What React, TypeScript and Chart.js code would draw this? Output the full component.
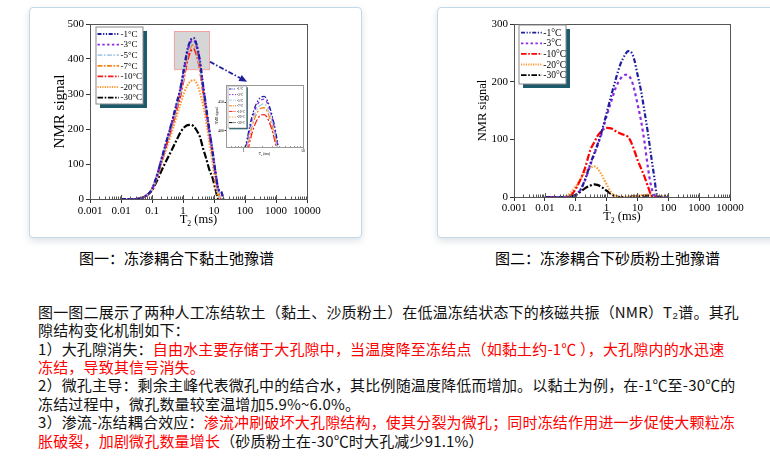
import React, { useEffect, useRef } from 'react';
import { Chart, registerables } from 'chart.js';
Chart.register(...registerables);

// ---------------- data ----------------
const xTickValues = [0.001, 0.01, 0.1, 1, 10, 100, 1000, 10000];
const clayYTicks = [0, 100, 200, 300, 400, 500];
const siltYTicks = [0, 100, 200, 300];
const insetXTicks = [1, 10];
const insetYTicks = [400, 450];

const clayLabels = ['-1°C', '-3°C', '-5°C', '-7°C', '-10°C', '-20°C', '-30°C'];
const clayT2 = [0.01, 0.03, 0.05, 0.07, 0.1, 0.15, 0.2, 0.3, 0.45, 0.65, 0.85, 1.1, 1.4, 1.8, 2.2, 2.8, 3.5, 4.5, 5.5, 7, 9, 11, 14, 17, 20];
const clayM1 = [0, 0, 4, 12, 28, 72, 112, 168, 224, 280, 322, 378, 428, 455, 460, 438, 395, 321, 267, 200, 136, 80, 28, 22, 0];
const clayM3 = [0, 0, 4, 12, 28, 72, 112, 167, 222, 277, 319, 374, 423, 450, 455, 434, 391, 318, 264, 198, 135, 79, 26, 20, 0];
const clayM5 = [0, 0, 4, 12, 28, 71, 110, 164, 218, 272, 313, 368, 416, 442, 447, 426, 384, 312, 260, 195, 132, 78, 15, 0, 0];
const clayM7 = [0, 0, 4, 12, 27, 70, 108, 162, 215, 268, 308, 362, 410, 436, 440, 419, 378, 307, 256, 192, 130, 76, 15, 0, 0];
const clayM10 = [0, 0, 4, 12, 27, 69, 106, 158, 210, 262, 300, 352, 398, 424, 428, 410, 372, 304, 254, 190, 130, 76, 16, 0, 0];
const clayM20 = [0, 0, 4, 12, 27, 65, 100, 148, 195, 242, 275, 305, 325, 337, 340, 330, 305, 265, 226, 165, 105, 45, 5, 0, 0];
const clayM30 = [0, 0, 4, 11, 25, 55, 80, 112, 143, 172, 192, 205, 211, 212, 208, 195, 178, 143, 118, 85, 60, 30, 0, 0, 0];
const claySeries = [clayM1, clayM3, clayM5, clayM7, clayM10, clayM20, clayM30];

const siltLabels = ['-1°C', '-3°C', '-10°C', '-20°C', '-30°C'];
const siltT2 = [0.01, 0.03, 0.05, 0.07, 0.1, 0.15, 0.2, 0.3, 0.4, 0.5, 0.7, 1, 1.4, 2, 2.8, 4, 5, 6.5, 8, 10, 13, 17, 22, 28, 35, 42, 50, 70, 100];
const siltM1 = [0, 0, 0, 0, 3, 15, 30, 58, 76, 90, 114, 145, 175, 205, 230, 247, 253, 250, 237, 213, 185, 148, 110, 70, 35, 5, 0, 0, 0];
const siltM3 = [0, 0, 0, 0, 3, 14, 29, 56, 74, 88, 111, 140, 165, 190, 205, 212, 211, 202, 185, 162, 133, 95, 50, 18, 3, 0, 0, 0, 0];
const siltM10 = [0, 0, 0, 3, 14, 33, 50, 82, 95, 105, 115, 120, 119, 114, 110, 107, 104, 93, 80, 65, 50, 35, 18, 3, 0, 0, 0, 0, 0];
const siltM20 = [0, 0, 2, 8, 18, 33, 43, 51, 53, 50, 38, 22, 8, 1, 0, 0, 0, 0, 1, 2, 3, 3.5, 4, 3.5, 3, 2.5, 2, 1, 0];
const siltM30 = [0, 0, 0, 1, 4, 10, 15, 20, 22, 21, 17, 11, 5, 1, 0, 0, 0, 0.5, 1, 1.5, 2, 2.5, 2.5, 2, 1.5, 1, 0.5, 0, 0];
const siltSeries = [siltM1, siltM3, siltM10, siltM20, siltM30];

// zoom box & arrow annotations (data units of the clay chart)
const zoomBoxT2 = [0.51, 6.9];
const zoomBoxSignal = [371, 480];
const arrowFrom = [7.4, 392];
const arrowTo = [117, 335];

// ---------------- styles ----------------
const SERIF = '"Liberation Serif", "Times New Roman", serif';
const NAVY = '#1f1f9e';
const clayStyles = [
  { color: NAVY, dash: [5, 2, 1.5, 2, 1.5, 2] },
  { color: '#8a2be2', dash: [3, 3] },
  { color: '#a9cbe9', dash: [6, 2, 2, 2] },
  { color: '#ff7f0e', dash: [6, 2, 2, 2] },
  { color: '#f51c1c', dash: [7, 2, 2, 2] },
  { color: '#ff9933', dash: [1.5, 1.5] },
  { color: '#000000', dash: [7, 2, 2, 2] },
];
const siltStyles = [clayStyles[0], clayStyles[1], { color: '#ff0000', dash: [7, 2, 2, 2] }, clayStyles[5], clayStyles[6]];

function makeDatasets(xs: number[], series: number[][], labels: string[], styles: any[], width: number) {
  return series.map((s, i) => ({
    label: labels[i],
    data: xs.map((t, j) => ({ x: t, y: s[j] })),
    borderColor: styles[i].color,
    borderDash: styles[i].dash,
    borderWidth: width,
    pointRadius: 0,
    fill: false,
    cubicInterpolationMode: 'monotone',
  }));
}

function decor(o: any) {
  return {
    id: 'decor',
    beforeDatasetsDraw(chart: any) {
      const { ctx, chartArea: a } = chart;
      ctx.save();
      if (o.plotBg) {
        ctx.fillStyle = o.plotBg;
        ctx.fillRect(a.left, a.top, a.right - a.left, a.bottom - a.top);
      }
      if (o.zoomBox) {
        const xs = chart.scales.x, ys = chart.scales.y;
        const x0 = xs.getPixelForValue(zoomBoxT2[0]), x1 = xs.getPixelForValue(zoomBoxT2[1]);
        const y0 = ys.getPixelForValue(zoomBoxSignal[1]), y1 = ys.getPixelForValue(zoomBoxSignal[0]);
        ctx.fillStyle = '#d6d6d6';
        ctx.fillRect(x0, y0, x1 - x0, y1 - y0);
        ctx.strokeStyle = '#f2a3a3';
        ctx.lineWidth = 1;
        ctx.strokeRect(x0 + 0.5, y0 + 0.5, x1 - x0, y1 - y0);
      }
      ctx.restore();
    },
    afterDraw(chart: any) {
      const { ctx, chartArea: a } = chart;
      const xs = chart.scales.x;
      ctx.save();
      // frame
      ctx.strokeStyle = o.frameColor || '#444';
      ctx.lineWidth = 1;
      ctx.setLineDash([]);
      ctx.strokeRect(Math.round(a.left) + 0.5, Math.round(a.top) + 0.5, Math.round(a.right - a.left), Math.round(a.bottom - a.top));
      // minor + inner major ticks on x axis
      ctx.beginPath();
      const lo = Math.round(Math.log10(xs.min)), hi = Math.round(Math.log10(xs.max));
      for (let n = lo - 1; n <= hi; n++) {
        for (let k = 1; k <= 9; k++) {
          const v = k * Math.pow(10, n);
          if (v < xs.min * 0.999 || v > xs.max * 1.001) continue;
          const px = Math.round(xs.getPixelForValue(v)) + 0.5;
          const len = k === 1 ? o.majorIn : o.minorIn;
          ctx.moveTo(px, a.bottom);
          ctx.lineTo(px, a.bottom - len);
        }
      }
      ctx.stroke();
      // titles
      ctx.fillStyle = '#000';
      ctx.font = `${o.yTitleSize}px ${SERIF}`;
      ctx.textAlign = 'center';
      ctx.textBaseline = 'middle';
      ctx.save();
      ctx.translate(o.yTitleX, (a.top + a.bottom) / 2);
      ctx.rotate(-Math.PI / 2);
      ctx.fillText('NMR signal', 0, 0);
      ctx.restore();
      {
        const fs = o.xTitleSize;
        ctx.textAlign = 'left';
        ctx.font = `${fs}px ${SERIF}`;
        const wT = ctx.measureText('T').width;
        const wR = ctx.measureText(' (ms)').width;
        ctx.font = `${fs * 0.62}px ${SERIF}`;
        const wS = ctx.measureText('2').width;
        const cx = (a.left + a.right) / 2;
        let x = cx - (wT + wS + wR) / 2;
        const y = o.xTitleY;
        ctx.font = `${fs}px ${SERIF}`;
        ctx.fillText('T', x, y);
        x += wT;
        ctx.font = `${fs * 0.62}px ${SERIF}`;
        ctx.fillText('2', x, y + fs * 0.3);
        x += wS;
        ctx.font = `${fs}px ${SERIF}`;
        ctx.fillText(' (ms)', x, y);
      }
      // legend
      if (o.legend) {
        const L = o.legend;
        ctx.fillStyle = '#1d5a6b';
        ctx.fillRect(L.x + L.sh, L.y + L.sh, L.w, L.h);
        ctx.fillStyle = '#fff';
        ctx.fillRect(L.x, L.y, L.w, L.h);
        ctx.strokeStyle = '#8a8a8a';
        ctx.lineWidth = L.bw;
        ctx.strokeRect(L.x, L.y, L.w, L.h);
        ctx.font = `${L.font}px ${SERIF}`;
        ctx.textAlign = 'left';
        ctx.textBaseline = 'middle';
        L.labels.forEach((lab: string, i: number) => {
          const yy = L.row0 + i * L.step;
          ctx.strokeStyle = L.styles[i].color;
          ctx.lineWidth = L.lw;
          ctx.setLineDash(L.styles[i].dash.map((d: number) => d * L.dashScale));
          ctx.beginPath();
          ctx.moveTo(L.lx0, yy);
          ctx.lineTo(L.lx1, yy);
          ctx.stroke();
          ctx.setLineDash([]);
          ctx.fillStyle = '#000';
          ctx.fillText(lab, L.tx, yy + 0.5);
        });
      }
      // arrow
      if (o.arrow) {
        const ys = chart.scales.y;
        const x1 = xs.getPixelForValue(arrowFrom[0]), y1 = ys.getPixelForValue(arrowFrom[1]);
        const x2 = xs.getPixelForValue(arrowTo[0]), y2 = ys.getPixelForValue(arrowTo[1]);
        const ang = Math.atan2(y2 - y1, x2 - x1);
        const HL = 8, HW = 3.5;
        const c = Math.cos(ang), s = Math.sin(ang);
        ctx.strokeStyle = NAVY;
        ctx.fillStyle = NAVY;
        ctx.lineWidth = 1.8;
        ctx.setLineDash([5, 2, 1.5, 2]);
        ctx.beginPath();
        ctx.moveTo(x1, y1);
        ctx.lineTo(x2 - HL * c, y2 - HL * s);
        ctx.stroke();
        ctx.setLineDash([]);
        ctx.beginPath();
        ctx.moveTo(x2, y2);
        ctx.lineTo(x2 - HL * c + HW * s, y2 - HL * s - HW * c);
        ctx.lineTo(x2 - HL * c - HW * s, y2 - HL * s + HW * c);
        ctx.closePath();
        ctx.fill();
      }
      ctx.restore();
    },
  };
}

function logX(min: number, max: number, ticks: number[], h: number, fs: number, tl: number, pad: number) {
  return {
    type: 'logarithmic',
    min,
    max,
    afterBuildTicks: (s: any) => { s.ticks = ticks.map((v) => ({ value: v })); },
    afterFit: (s: any) => { s.height = h; },
    ticks: { autoSkip: false, maxRotation: 0, color: '#000', padding: pad, font: { family: SERIF, size: fs }, callback: (v: any) => String(v) },
    grid: { drawOnChartArea: false, tickLength: tl, color: '#333', lineWidth: 1 },
    border: { color: '#333', width: 1 },
  };
}
function linY(min: number, max: number, ticks: number[], w: number, fs: number, tl: number, pad: number) {
  return {
    type: 'linear',
    min,
    max,
    afterBuildTicks: (s: any) => { s.ticks = ticks.map((v) => ({ value: v })); },
    afterFit: (s: any) => { s.width = w; },
    ticks: { color: '#000', padding: pad, font: { family: SERIF, size: fs } },
    grid: { drawOnChartArea: false, tickLength: tl, color: '#333', lineWidth: 1 },
    border: { color: '#333', width: 1 },
  };
}

function buildClay() {
  return {
    type: 'line',
    data: { datasets: makeDatasets(clayT2, claySeries, clayLabels, clayStyles, 2.2) },
    options: {
      responsive: false, animation: false, devicePixelRatio: 1,
      layout: { padding: { left: 0, top: 16, right: 53, bottom: 0 } },
      plugins: { legend: { display: false }, tooltip: { enabled: false } },
      scales: {
        x: logX(0.001, 10000, xTickValues, 37, 11, 4, 2),
        y: linY(0, 500, clayYTicks, 60, 11, 4, 2),
      },
    },
    plugins: [decor({
      frameColor: '#555', majorIn: 4, minorIn: 2.5, yTitleSize: 15, yTitleX: 30, xTitleSize: 12.5, xTitleY: 212,
      zoomBox: true, arrow: true,
      legend: { x: 66, y: 19, w: 47, h: 77, sh: 4, bw: 1, row0: 26, step: 10.6, lx0: 67.5, lx1: 89, tx: 90.5, font: 9, lw: 1.8, dashScale: 0.8, labels: clayLabels, styles: clayStyles },
    })],
  };
}

function buildSilt() {
  return {
    type: 'line',
    data: { datasets: makeDatasets(siltT2, siltSeries, siltLabels, siltStyles, 2.2) },
    options: {
      responsive: false, animation: false, devicePixelRatio: 1,
      layout: { padding: { left: 0, top: 16, right: 38, bottom: 0 } },
      plugins: { legend: { display: false }, tooltip: { enabled: false } },
      scales: {
        x: logX(0.001, 10000, xTickValues, 39, 11, 4, 1),
        y: linY(0, 300, siltYTicks, 76, 11, 4, 2),
      },
    },
    plugins: [decor({
      frameColor: '#555', majorIn: 4, minorIn: 2.5, yTitleSize: 12.5, yTitleX: 45, xTitleSize: 12.5, xTitleY: 209,
      legend: { x: 81, y: 17, w: 47, h: 59, sh: 4, bw: 1, row0: 24.7, step: 10.6, lx0: 83, lx1: 104, tx: 105.3, font: 9.5, lw: 1.8, dashScale: 0.8, labels: siltLabels, styles: siltStyles },
    })],
  };
}

function buildInset() {
  return {
    type: 'line',
    data: { datasets: makeDatasets(clayT2, claySeries, clayLabels, clayStyles, 1.3) },
    options: {
      responsive: false, animation: false, devicePixelRatio: 1,
      layout: { padding: { left: 0, top: 5, right: 7, bottom: 0 } },
      plugins: { legend: { display: false }, tooltip: { enabled: false } },
      scales: {
        x: logX(0.5, 10, insetXTicks, 13, 4, 1.5, 0.5),
        y: linY(371, 480, insetYTicks, 16, 4, 1.5, 0.5),
      },
    },
    plugins: [decor({
      plotBg: '#ffffff', frameColor: '#999', majorIn: 1.5, minorIn: 1, yTitleSize: 3.5, yTitleX: 6.7, xTitleSize: 3.8, xTitleY: 74,
      legend: { x: 18, y: 6, w: 18.5, h: 42, sh: 1.3, bw: 0.6, row0: 9, step: 5.6, lx0: 19, lx1: 26, tx: 27, font: 3.3, lw: 1, dashScale: 0.5, labels: clayLabels, styles: clayStyles },
    })],
  };
}

function ChartBox({ left, top, width, height, build }: any) {
  const ref = useRef<HTMLCanvasElement>(null);
  useEffect(() => {
    const chart = new Chart(ref.current as HTMLCanvasElement, build());
    return () => chart.destroy();
  }, []);
  return (
    <div style={{ position: 'absolute', left, top, width, height }}>
      <canvas ref={ref} width={width} height={height} style={{ width, height, display: 'block' }} />
    </div>
  );
}

const cardStyle = (left: number, width: number): React.CSSProperties => ({
  position: 'absolute', left, top: 7, width, height: 231, boxSizing: 'border-box',
  border: '1.5px solid #c2d9ea', borderRadius: 4, background: '#fff',
  boxShadow: '0 3px 7px rgba(100,120,140,0.22)',
});

const RED: React.CSSProperties = { color: '#ff0000' };

export default function App() {
  return (
    <div style={{ position: 'absolute', left: 0, top: 0, width: 770, height: 461, overflow: 'hidden', background: '#fff', fontFamily: '"Noto Sans CJK SC", sans-serif', color: '#000' }}>
      <div style={cardStyle(29, 333)} />
      <div style={cardStyle(437, 360)} />
      <ChartBox left={30} top={8} width={330} height={228} build={buildClay} />
      <ChartBox left={210} top={80} width={100} height={80} build={buildInset} />
      <ChartBox left={438} top={8} width={330} height={228} build={buildSilt} />
      <div style={{ position: 'absolute', left: 79, top: 248, fontSize: 15, lineHeight: '20px', whiteSpace: 'nowrap' }}>图一：冻渗耦合下黏土弛豫谱</div>
      <div style={{ position: 'absolute', left: 495, top: 248, fontSize: 15, lineHeight: '20px', whiteSpace: 'nowrap' }}>图二：冻渗耦合下砂质粉土弛豫谱</div>
      <div style={{ position: 'absolute', left: 38, top: 302.8, fontSize: 15, lineHeight: '18.4px', letterSpacing: '0.18px', whiteSpace: 'nowrap', color: '#111' }}>
        <div>图一图二展示了两种人工冻结软土（黏土、沙质粉土）在低温冻结状态下的核磁共振（NMR）T₂谱。其孔</div>
        <div>隙结构变化机制如下：</div>
        <div>1）大孔隙消失：<span style={RED}>自由水主要存储于大孔隙中，当温度降至冻结点（如黏土约-1℃ ），大孔隙内的水迅速</span></div>
        <div><span style={RED}>冻结，导致其信号消失。</span></div>
        <div>2）微孔主导：剩余主峰代表微孔中的结合水，其比例随温度降低而增加。以黏土为例，在-1℃至-30℃的</div>
        <div>冻结过程中，微孔数量较室温增加5.9%~6.0%。</div>
        <div>3）渗流-冻结耦合效应：<span style={RED}>渗流冲刷破坏大孔隙结构，使其分裂为微孔；同时冻结作用进一步促使大颗粒冻</span></div>
        <div><span style={RED}>胀破裂，加剧微孔数量增长</span>（砂质粉土在-30℃时大孔减少91.1%）</div>
      </div>
    </div>
  );
}
